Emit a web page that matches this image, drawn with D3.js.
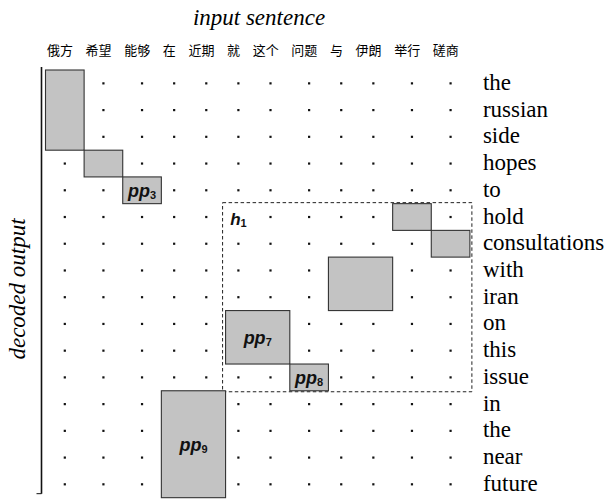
<!DOCTYPE html>
<html>
<head>
<meta charset="utf-8">
<script src="https://cdn.jsdelivr.net/npm/d3@7"></script>
<style>
  html, body { margin: 0; padding: 0; background: #fff; }
  svg { display: block; }
</style>
</head>
<body>
<svg id="chart" width="616" height="500"></svg>
<script>
// ---- data ----
const sourceWords = ["俄方", "希望", "能够", "在", "近期", "就", "这个", "问题", "与", "伊朗", "举行", "磋商"];
const targetWords = ["the", "russian", "side", "hopes", "to", "hold", "consultations", "with", "iran", "on", "this", "issue", "in", "the", "near", "future"];

// phrase-pair boxes (column span over source words, row span over target words)
const boxColStart = [0, 1, 2, 10, 11, 8, 5, 7, 3];
const boxColEnd   = [0, 1, 2, 10, 11, 9, 6, 7, 4];
const boxRowStart = [0, 3, 4, 5, 6, 7, 9, 11, 12];
const boxRowEnd   = [2, 3, 4, 5, 6, 8, 10, 11, 15];
const boxLabelBase = ["", "", "pp", "", "", "", "pp", "pp", "pp"];
const boxLabelSub  = ["", "", "3", "", "", "", "7", "8", "9"];

// hypothesis region
const hypCols = [5, 11];
const hypRows = [5, 11];
const hypLabelBase = "h";
const hypLabelSub = "1";

const titleTop = "input sentence";
const titleLeft = "decoded output";

// ---- layout ----
const svg = d3.select("#chart");
const cjkFont = "Noto Sans CJK SC, sans-serif";
const serifFont = "Liberation Serif, Times New Roman, DejaVu Serif, serif";
const sansFont = "Liberation Sans, Arial, Helvetica, sans-serif";
const headerSize = 13;
const headerGap = 12.6;
const gridLeft = 45.5;

// measure the source words to build a variable-width column band layout
const measure = svg.append("g").attr("visibility", "hidden");
const widths = sourceWords.map(w => {
  const t = measure.append("text").attr("font-family", cjkFont).attr("font-size", headerSize).text(w);
  return t.node().getComputedTextLength() + headerGap;
});
measure.remove();
const starts = [gridLeft, ...Array.from(d3.cumsum(widths), c => gridLeft + c)];
const colStart = i => starts[i];
const colEnd = i => starts[i + 1];
const colCenter = i => (starts[i] + starts[i + 1]) / 2;

const y = d3.scaleBand()
  .domain(d3.range(targetWords.length))
  .range([70, 70 + 26.73 * targetWords.length])
  .paddingInner(0).paddingOuter(0);
const rowCenter = i => y(i) + y.bandwidth() / 2;

// ---- titles ----
svg.append("text")
  .attr("x", 259).attr("y", 25)
  .attr("text-anchor", "middle")
  .attr("font-family", serifFont).attr("font-style", "italic")
  .attr("font-size", 23).attr("fill", "#000")
  .text(titleTop);

svg.append("text")
  .attr("transform", "translate(25,289) rotate(-90)")
  .attr("text-anchor", "middle")
  .attr("font-family", serifFont).attr("font-style", "italic")
  .attr("font-size", 23).attr("fill", "#000")
  .text(titleLeft);

// ---- header (source words) ----
svg.append("g").selectAll("text")
  .data(sourceWords)
  .join("text")
  .attr("x", (d, i) => colStart(i) + 1.5)
  .attr("y", 55)
  .attr("font-family", cjkFont)
  .attr("font-size", headerSize)
  .attr("fill", "#000")
  .text(d => d);

// ---- row labels (target words) ----
const xRight = colEnd(sourceWords.length - 1);
svg.append("g").selectAll("text")
  .data(targetWords)
  .join("text")
  .attr("x", xRight + 13)
  .attr("y", (d, i) => rowCenter(i) + 6.5)
  .attr("font-family", serifFont)
  .attr("font-size", 23)
  .attr("fill", "#000")
  .text(d => d);

// ---- vertical axis line ----
const axisX = gridLeft - 4;
const yr = y.range();
svg.append("line")
  .attr("x1", axisX).attr("x2", axisX)
  .attr("y1", yr[0] - 3).attr("y2", yr[1] - 4)
  .attr("stroke", "#111").attr("stroke-width", 1.6);
svg.append("line")
  .attr("x1", axisX - 5).attr("x2", axisX)
  .attr("y1", yr[1] - 4).attr("y2", yr[1] - 4)
  .attr("stroke", "#111").attr("stroke-width", 1);

// ---- boxes ----
const boxes = boxColStart.map((c, i) => ({
  c0: c, c1: boxColEnd[i], r0: boxRowStart[i], r1: boxRowEnd[i],
  base: boxLabelBase[i], sub: boxLabelSub[i]
}));

const covered = new Set();
boxes.forEach(b => {
  for (let c = b.c0; c <= b.c1; c++)
    for (let r = b.r0; r <= b.r1; r++) covered.add(c + "," + r);
});
covered.add(hypCols[0] + "," + hypRows[0]);

// ---- dots ----
const cells = [];
for (let r = 0; r < targetWords.length; r++)
  for (let c = 0; c < sourceWords.length; c++)
    if (!covered.has(c + "," + r)) cells.push({ c, r });

svg.append("g").selectAll("rect")
  .data(cells)
  .join("rect")
  .attr("x", d => colCenter(d.c) - 1.1)
  .attr("y", d => rowCenter(d.r) - 1.1)
  .attr("width", 2.2).attr("height", 2.2)
  .attr("fill", "#111");

// ---- hypothesis dashed region ----
svg.append("rect")
  .attr("x", colStart(hypCols[0]) - 3)
  .attr("y", y(hypRows[0]) - 1)
  .attr("width", colEnd(hypCols[1]) - colStart(hypCols[0]) + 5)
  .attr("height", y(hypRows[1]) + y.bandwidth() - y(hypRows[0]) + 2)
  .attr("fill", "none")
  .attr("stroke", "#222").attr("stroke-width", 1)
  .attr("stroke-dasharray", "3.5,2.5");

const hl = svg.append("text")
  .attr("x", colCenter(hypCols[0]))
  .attr("y", rowCenter(hypRows[0]) + 8)
  .attr("text-anchor", "middle")
  .attr("font-family", sansFont)
  .attr("fill", "#111");
hl.append("tspan").attr("font-size", 17).attr("font-weight", "bold").attr("font-style", "italic").text(hypLabelBase);
hl.append("tspan").attr("font-size", 11).attr("font-weight", "bold").attr("dy", 2).text(hypLabelSub);

// ---- boxes drawn ----
const bg = svg.append("g");
bg.selectAll("rect")
  .data(boxes)
  .join("rect")
  .attr("x", d => colStart(d.c0))
  .attr("y", d => y(d.r0))
  .attr("width", d => colEnd(d.c1) - colStart(d.c0))
  .attr("height", d => y(d.r1) + y.bandwidth() - y(d.r0))
  .attr("fill", "#c3c3c3")
  .attr("stroke", "#333")
  .attr("stroke-width", 1.1);

const lbl = bg.selectAll("text")
  .data(boxes.filter(d => d.base))
  .join("text")
  .attr("x", d => (colStart(d.c0) + colEnd(d.c1)) / 2)
  .attr("y", d => (y(d.r0) + y(d.r1) + y.bandwidth()) / 2 + 6.5)
  .attr("text-anchor", "middle")
  .attr("font-family", sansFont)
  .attr("fill", "#111");
lbl.append("tspan").attr("font-size", 18).attr("font-weight", "bold").attr("font-style", "italic").text(d => d.base);
lbl.append("tspan").attr("font-size", 11).attr("font-weight", "bold").attr("dy", 2.5).text(d => d.sub);
</script>
</body>
</html>
